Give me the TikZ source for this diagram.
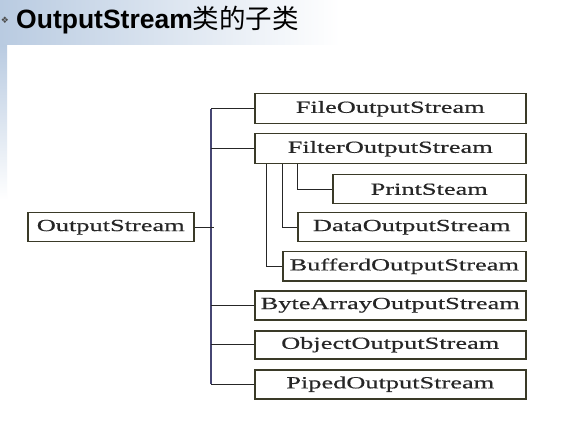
\documentclass[tikz,border=0pt]{standalone}
\usepackage{fontspec}
\setmainfont{Liberation Serif}
\newfontfamily\boxfont[FakeStretch=1.55,FakeBold=0.5]{Liberation Serif}
\newfontfamily\titlefont{Liberation Sans}
\newfontfamily\cjkfont{Noto Sans CJK SC}
\newfontfamily\symfont{DejaVu Sans}
\definecolor{boxborder}{RGB}{58,58,40}
\definecolor{trunkcol}{RGB}{70,70,115}
\definecolor{bgblue}{RGB}{185,203,225}
\tikzset{
  cls/.style={draw=boxborder, line width=1.5pt, fill=white, inner sep=0pt,
    anchor=north west, font=\boxfont\fontsize{17}{18}\selectfont, text=black!85},
  link/.style={draw=black!85, line width=1pt},
  trunk/.style={draw=trunkcol, line width=1.3pt}
}
\begin{document}
\begin{tikzpicture}[x=1pt,y=-1pt]
\useasboundingbox (0,0) rectangle (573,422);
\fill[white] (0,0) rectangle (573,422);
\shade[left color=bgblue, right color=white] (0,0) rectangle (340,45);
\shade[top color=bgblue, bottom color=white] (0,45) rectangle (7,200);
\node[font=\symfont\fontsize{9}{10}\selectfont, text=black!70, inner sep=0pt] (bullet) at (5,20) {❖};
\node[anchor=base west, inner sep=0pt, font=\titlefont\bfseries\fontsize{26.5}{30}\selectfont] (title) at (16,29) {OutputStream{\cjkfont\mdseries 类的子类}};

\node[cls, minimum width=166pt, minimum height=29pt] (os) at (27,212) {OutputStream};
\node[cls, minimum width=271pt, minimum height=30pt] (file) at (254,93) {FileOutputStream};
\node[cls, minimum width=271pt, minimum height=30pt] (filter) at (254,133) {FilterOutputStream};
\node[cls, minimum width=193pt, minimum height=29pt] (print) at (332,174) {PrintSteam};
\node[cls, minimum width=228pt, minimum height=29pt] (data) at (297,212) {DataOutputStream};
\node[cls, minimum width=243pt, minimum height=29pt] (buff) at (282,251) {BufferdOutputStream};
\node[cls, minimum width=271pt, minimum height=29pt] (byte) at (254,290) {ByteArrayOutputStream};
\node[cls, minimum width=271pt, minimum height=28pt] (object) at (254,330) {ObjectOutputStream};
\node[cls, minimum width=271pt, minimum height=29pt] (piped) at (254,369) {PipedOutputStream};

\draw[trunk] ([xshift=-43pt]file.west) -- ([xshift=-43pt]piped.west);
\draw[link] (file.west) -- ++(-43,0);
\draw[link] (filter.west) -- ++(-43,0);
\draw[link] (byte.west) -- ++(-43,0);
\draw[link] (object.west) -- ++(-43,0);
\draw[link] (piped.west) -- ++(-43,0);
\draw[link] (os.east) -- ++(19,0);

\draw[link] ([xshift=12pt]filter.south west) |- (buff.west);
\draw[link] ([xshift=28pt]filter.south west) |- (data.west);
\draw[link] ([xshift=43pt]filter.south west) |- (print.west);
\end{tikzpicture}
\end{document}
